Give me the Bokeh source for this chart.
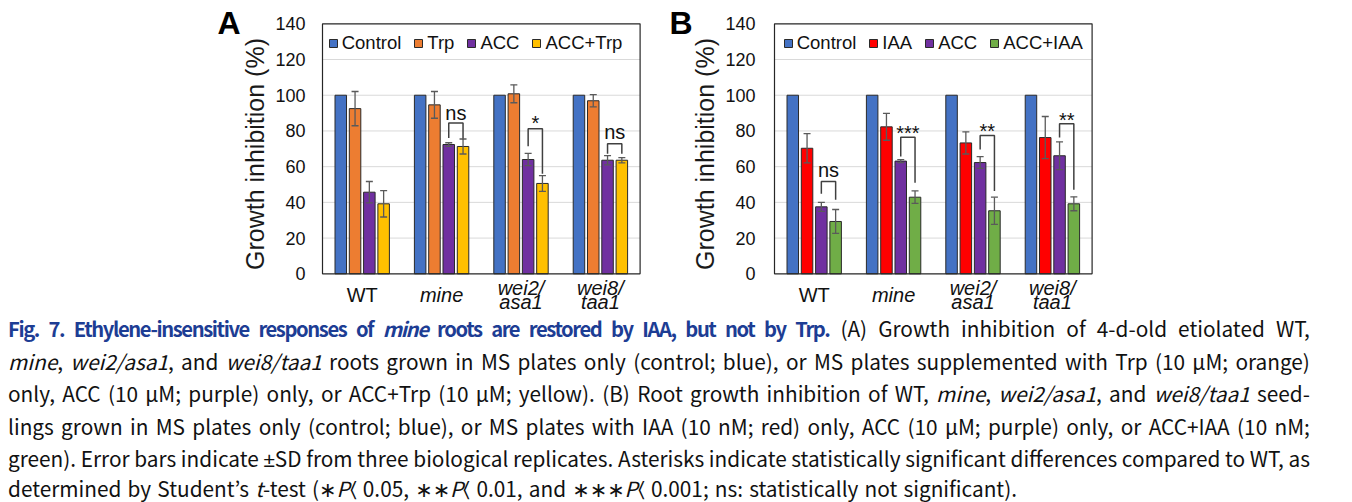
from bokeh.plotting import figure
from bokeh.models import (Range1d, FixedTicker, ColumnDataSource, Whisker, TeeHead, Div,
                          LinearAxis, Legend, LegendItem)
from bokeh.layouts import column
from bokeh.embed import file_html
from bokeh.resources import INLINE
from bokeh.core.properties import value

# ---------------- data ----------------
genotypes = ["WT", "mine", "wei2/asa1", "wei8/taa1"]
genotype_italic = [False, True, True, True]

# Panel A
series_a = ["Control", "Trp", "ACC", "ACC+Trp"]
colors_a = ["#4472C4", "#ED7D31", "#7030A0", "#FFC000"]
a_control = [100, 100, 100, 100]
a_trp = [92.5, 94.6, 100.8, 96.9]
a_trp_sd = [9.6, 7.5, 5.0, 3.4]
a_acc = [45.7, 72.4, 64.0, 63.6]
a_acc_sd = [6.0, 1.0, 3.4, 2.6]
a_acc_trp = [39.2, 71.3, 50.6, 63.6]
a_acc_trp_sd = [7.4, 4.2, 4.4, 1.5]

# Panel A significance brackets (ACC vs ACC+Trp)
a_sig_geno = [1, 2, 3]
a_sig_left = [76.0, 71.4, 67.2]
a_sig_top = [84.5, 81.2, 72.8]
a_sig_right = [75.0, 56.0, 67.2]
a_sig_text = ["ns", "*", "ns"]
a_sig_text_y = [90.5, 86.8, 79.8]

# Panel B
series_b = ["Control", "IAA", "ACC", "ACC+IAA"]
colors_b = ["#4472C4", "#FF0000", "#7030A0", "#70AD47"]
b_control = [100, 100, 100, 100]
b_iaa = [70.3, 82.3, 73.3, 76.3]
b_iaa_sd = [8.2, 7.5, 6.2, 11.8]
b_acc = [37.5, 63.1, 62.3, 66.1]
b_acc_sd = [2.5, 0.8, 3.3, 7.8]
b_acc_iaa = [29.3, 42.9, 35.3, 39.2]
b_acc_iaa_sd = [6.7, 3.5, 7.6, 3.9]

b_sig_geno = [0, 1, 2, 3]
b_sig_left = [44.8, 65.7, 69.6, 76.3]
b_sig_top = [51.7, 76.5, 77.4, 84.0]
b_sig_right = [41.4, 51.0, 46.3, 47.0]
b_sig_text = ["ns", "***", "**", "**"]
b_sig_text_y = [58.2, 81.5, 82.6, 88.6]

y_ticks = [0, 20, 40, 60, 80, 100, 120, 140]
y_label = "Growth inhibition (%)"

PM = '<span style="font-family:\'Liberation Sans\'">\u00b1</span>'
ST = '<span style="font-family:\'DejaVu Sans\'">\u2217</span>'
LT = '<span style="font-family:\'DejaVu Sans\'">\u2329</span>'
caption_lines = [
    '<b style="color:#1d3d94;font-size:20.2px;letter-spacing:-1.4px">Fig. 7. Ethylene-insensitive responses of <i>mine</i> roots are restored by IAA, but not by Trp.</b> (A) Growth inhibition of 4-d-old etiolated WT,',
    '<i>mine</i>, <i>wei2/asa1</i>, and <i>wei8/taa1</i> roots grown in MS plates only (control; blue), or MS plates supplemented with Trp (10 \u03bcM; orange)',
    'only, ACC (10 \u03bcM; purple) only, or ACC+Trp (10 \u03bcM; yellow). (B) Root growth inhibition of WT, <i>mine</i>, <i>wei2/asa1</i>, and <i>wei8/taa1</i> seed-',
    'lings grown in MS plates only (control; blue), or MS plates with IAA (10 nM; red) only, ACC (10 \u03bcM; purple) only, or ACC+IAA (10 nM;',
    f'green). Error bars indicate {PM}SD from three biological replicates. Asterisks indicate statistically significant differences compared to WT, as',
    f'determined by Student\u2019s <i>t</i>-test ({ST}<i>P</i>{LT} 0.05, {ST}{ST}<i>P</i>{LT} 0.01, and {ST}{ST}{ST}<i>P</i>{LT} 0.001; ns: statistically not significant).',
]

# ---------------- layout / styling ----------------
FONT = "Liberation Sans"
OFFSETS = [-0.27, -0.09, 0.09, 0.27]
BAR_W = 0.145
PXU = 79.4            # pixels per genotype slot
PX2Y = 140 / 250.0    # data units per pixel on y
Y0 = 273.3            # page y of value 0
BORDER_L = 200
FRAME_W = 1150
FRAME_H = 312
A_LEFT, B_LEFT = 322, 774   # page x of each panel box


def px_to_x(px):
    return (px - A_LEFT) / PXU


def py_to_y(py):
    return (Y0 - py) * PX2Y


XA = px_to_x(A_LEFT)
XB = px_to_x(B_LEFT)

p = figure(frame_width=FRAME_W, frame_height=FRAME_H,
           min_border_left=BORDER_L, min_border_right=0, min_border_top=0, min_border_bottom=0,
           x_range=Range1d(px_to_x(BORDER_L), px_to_x(BORDER_L + FRAME_W)),
           y_range=Range1d(py_to_y(FRAME_H), py_to_y(0)),
           x_axis_location=None, y_axis_location=None,
           output_backend="svg", toolbar_location=None)
p.outline_line_color = None
p.background_fill_color = "white"
p.border_fill_color = "white"
p.grid.visible = False


def draw_panel(x0, letter, series, colors, values, sds, sig, tick_standoff, legend_px):
    n = len(genotypes)
    base = [x0 + i + 0.5 for i in range(n)]
    grid_ticks = y_ticks[1:-1]

    # horizontal gridlines inside the panel box
    p.segment(x0=[x0] * len(grid_ticks), x1=[x0 + n] * len(grid_ticks),
              y0=grid_ticks, y1=grid_ticks, line_color="#d9d9d9", line_width=1)

    items = []
    for k, (name, col, vals) in enumerate(zip(series, colors, values)):
        src = ColumnDataSource(dict(x=[b + OFFSETS[k] for b in base], top=vals))
        r = p.vbar(x="x", top="top", width=BAR_W, source=src, fill_color=col,
                   line_color="#2a2a2a", line_width=1)
        items.append(LegendItem(label=name, renderers=[r]))

    for k, (vals, sd) in enumerate(zip(values, sds)):
        if sd is None:
            continue
        wsrc = ColumnDataSource(dict(
            x=[b + OFFSETS[k] for b in base],
            upper=[v + s for v, s in zip(vals, sd)],
            lower=[v - s for v, s in zip(vals, sd)]))
        p.add_layout(Whisker(base="x", upper="upper", lower="lower", source=wsrc, level="overlay",
                             line_color="#5a5a5a", line_width=1.3,
                             upper_head=TeeHead(size=7, line_color="#5a5a5a", line_width=1.3),
                             lower_head=TeeHead(size=7, line_color="#5a5a5a", line_width=1.3)))

    g_idx, yl, yt, yr, txt, ty = sig
    xs, ys, tx, tym = [], [], [], []
    for g, a, t, b, s, c in zip(g_idx, yl, yt, yr, txt, ty):
        xl = base[g] + OFFSETS[2]
        xr = base[g] + OFFSETS[3]
        xs.append([xl, xl, xr, xr])
        ys.append([a, t, t, b])
        tx.append((xl + xr) / 2)
        shift = -4.4 if s.startswith("*") else -0.5
        tym.append(c + shift * PX2Y)
    p.multi_line(xs, ys, line_color="#404040", line_width=1.5)
    p.text(x=tx, y=tym, text=txt, text_font=value(FONT), text_font_size="20px",
           text_align="center", text_baseline="middle", text_color="#111111")

    # panel box
    p.quad(left=[x0], right=[x0 + n], bottom=[y_ticks[0]], top=[y_ticks[-1]],
           fill_color=None, line_color="#262626", line_width=1.2)

    # genotype labels under the box
    lsrc = ColumnDataSource(dict(
        x=base, y=[py_to_y(294.5)] * n,
        text=[g.replace("/", "/\n") for g in genotypes],
        style=["italic" if it else "normal" for it in genotype_italic]))
    p.text(x="x", y="y", text="text", source=lsrc, text_font=value(FONT),
           text_font_size="20px", text_font_style="style", text_align="center",
           text_baseline="middle", text_line_height=0.68, text_color="#111111")

    # panel letter
    p.text(x=[x0 - 105 / PXU], y=[py_to_y(22)], text=[letter], text_font=value(FONT),
           text_font_size="32px", text_font_style="bold", text_align="left",
           text_baseline="middle", text_color="#000000")

    # y axis attached at the panel's left edge (bounds nudge the title slightly lower, as in the figure)
    ax = LinearAxis(fixed_location=x0, ticker=FixedTicker(ticks=y_ticks),
                    bounds=(y_ticks[0] - 6, y_ticks[-1]), axis_label=y_label)
    ax.axis_line_color = None
    ax.major_tick_line_color = None
    ax.minor_tick_line_color = None
    ax.major_tick_out = 0
    ax.major_tick_in = 0
    ax.major_label_standoff = tick_standoff
    ax.major_label_text_font = FONT
    ax.major_label_text_font_size = "18px"
    ax.major_label_text_color = "#111111"
    ax.axis_label_text_font = FONT
    ax.axis_label_text_font_style = "normal"
    ax.axis_label_text_font_size = "25px"
    ax.axis_label_text_color = "#1a1a1a"
    ax.axis_label_standoff = 3
    p.add_layout(ax, "left")

    lg = Legend(items=items, location=(legend_px - BORDER_L - 4, FRAME_H - 53.7),
                orientation="horizontal", label_text_font=FONT, label_text_font_size="18.5px",
                label_text_color="#111111", glyph_width=10, glyph_height=10,
                label_standoff=4, spacing=12, padding=0, margin=0,
                border_line_color=None, background_fill_alpha=0)
    p.add_layout(lg)


draw_panel(XA, "A", series_a, colors_a,
           [a_control, a_trp, a_acc, a_acc_trp],
           [None, a_trp_sd, a_acc_sd, a_acc_trp_sd],
           (a_sig_geno, a_sig_left, a_sig_top, a_sig_right, a_sig_text, a_sig_text_y),
           tick_standoff=17, legend_px=331.7)

draw_panel(XB, "B", series_b, colors_b,
           [b_control, b_iaa, b_acc, b_acc_iaa],
           [None, b_iaa_sd, b_acc_sd, b_acc_iaa_sd],
           (b_sig_geno, b_sig_left, b_sig_top, b_sig_right, b_sig_text, b_sig_text_y),
           tick_standoff=19, legend_px=786.7)

line_html = []
for i, l in enumerate(caption_lines):
    if i < len(caption_lines) - 1:
        line_html.append(
            '<div style="text-align:justify;text-align-last:justify;white-space:nowrap;'
            f'height:32.6px;line-height:32.6px;">{l}</div>')
    else:
        line_html.append(
            '<div style="width:1009px;text-align:justify;text-align-last:justify;white-space:nowrap;'
            f'height:26px;line-height:26px;">{l}</div>')

caption = Div(text="".join(line_html), width=1332, margin=(0, 0, 0, 8),
              styles={"font-family": "'Noto Sans CJK KR', 'Noto Sans', sans-serif",
                      "font-size": "20.8px", "color": "#111111"})

layout = column(p, caption)
open("out.html", "w").write(file_html(layout, INLINE))
